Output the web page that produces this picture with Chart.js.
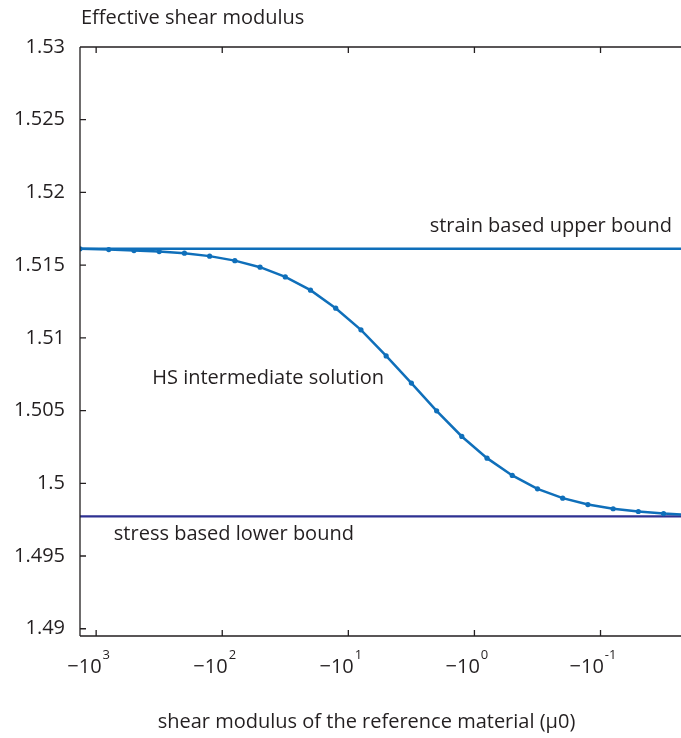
<!DOCTYPE html>
<html>
<head>
<meta charset="utf-8">
<script src="https://cdn.jsdelivr.net/npm/chart.js@4.4.0/dist/chart.umd.min.js"></script>
<style>
    html, body { margin: 0; padding: 0; background: #fff; overflow: hidden; }
    canvas { display: block; }
</style>
</head>
<body>
<canvas id="chart" width="681" height="738"></canvas>
<script>
// --- Data ---
// reference material shear modulus (mu0), negative, log-spaced
const muRef = [-1343, -794.3, -501.2, -316.2, -199.5, -125.9, -79.43, -50.12, -31.62, -19.95,
    -12.59, -7.943, -5.012, -3.162, -1.995, -1.259, -0.7943, -0.5012, -0.3162, -0.1995,
    -0.1259, -0.07943, -0.05012, -0.03162, -0.01995];
// HS intermediate solution (effective shear modulus)
const hsSolution = [1.51612, 1.51607, 1.51600, 1.51593, 1.51582, 1.51562, 1.51531, 1.51486, 1.51419, 1.51328,
    1.51204, 1.51055, 1.50876, 1.50689, 1.50498, 1.50322, 1.50173, 1.50054, 1.49962, 1.49898,
    1.49854, 1.49825, 1.49806, 1.49792, 1.49782];
const upperBound = 1.51612; // strain based
const lowerBound = 1.49772; // stress based

const muLimits = [-1343, -0.0230];
const yLimits = [1.4895, 1.53];
const xTickExps = [3, 2, 1, 0, -1];
const xTickExpLabels = ['3', '2', '1', '0', '-1'];
const yTicks = [1.49, 1.495, 1.5, 1.505, 1.51, 1.515, 1.52, 1.525, 1.53];
const yTickLabels = ['1.49', '1.495', '1.5', '1.505', '1.51', '1.515', '1.52', '1.525', '1.53'];

// text labels inside the axes, anchored in data space
const curveLabels = [
    { text: 'strain based upper bound', mu: -0.0271, g: 1.5177, align: 'right' },
    { text: 'HS intermediate solution', mu: -359, g: 1.50725, align: 'left' },
    { text: 'stress based lower bound', mu: -724, g: 1.49646, align: 'left' },
];

const FONT = '"Open Sans", sans-serif';
const INK = '#231f20';
const BLUE = '#0f6fba';
const NAVY = '#2e3192';

const lg = (mu) => Math.log10(-mu);
const toPoints = (xs, ys) => xs.map((m, i) => ({ x: lg(m), y: ys[i] }));

// draws the MATLAB-like box: axis lines, inward ticks, x labels with exponents, titles
const axesBox = {
    id: 'axesBox',
    afterDraw(chart) {
        const { ctx, chartArea: a, scales: { x, y } } = chart;
        const tick = 6;
        ctx.save();
        ctx.strokeStyle = INK;
        ctx.lineWidth = 1.3;
        ctx.beginPath();
        ctx.moveTo(a.left, a.top); ctx.lineTo(a.right, a.top);
        ctx.moveTo(a.left, a.top); ctx.lineTo(a.left, a.bottom);
        ctx.moveTo(a.left, a.bottom); ctx.lineTo(a.right, a.bottom);
        yTicks.forEach(v => {
            const py = y.getPixelForValue(v);
            ctx.moveTo(a.left, py); ctx.lineTo(a.left + tick, py);
        });
        xTickExps.forEach(v => {
            const px = x.getPixelForValue(v);
            ctx.moveTo(px, a.bottom); ctx.lineTo(px, a.bottom - tick);
            ctx.moveTo(px, a.top); ctx.lineTo(px, a.top + tick);
        });
        ctx.stroke();

        // x tick labels: -10 with superscript exponent
        ctx.fillStyle = INK;
        ctx.textBaseline = 'alphabetic';
        ctx.textAlign = 'left';
        xTickExps.forEach((v, i) => {
            const px = x.getPixelForValue(v);
            ctx.font = '20px ' + FONT;
            const base = '\u221210';
            const bw = ctx.measureText(base).width;
            ctx.font = '13px ' + FONT;
            const ew = ctx.measureText(xTickExpLabels[i]).width;
            const x0 = px - 7.5 - (bw + 1 + ew) / 2;
            ctx.font = '20px ' + FONT;
            ctx.fillText(base, x0, a.bottom + 37);
            ctx.font = '13px ' + FONT;
            ctx.fillText(xTickExpLabels[i], x0 + bw + 1, a.bottom + 23);
        });

        // axis titles
        ctx.font = '20px ' + FONT;
        ctx.textAlign = 'left';
        ctx.fillText('Effective shear modulus', a.left + 1, a.top - 23);
        ctx.textAlign = 'center';
        ctx.fillText('shear modulus of the reference material (\u03bc0)', (a.left + a.right) / 2 - 14, a.bottom + 92);

        // curve labels
        ctx.textBaseline = 'middle';
        curveLabels.forEach(l => {
            ctx.textAlign = l.align;
            ctx.fillText(l.text, x.getPixelForValue(lg(l.mu)), y.getPixelForValue(l.g));
        });
        ctx.restore();
    }
};

const ctx = document.getElementById('chart').getContext('2d');
new Chart(ctx, {
    type: 'line',
    data: {
        datasets: [
            {
                label: 'strain based upper bound',
                data: toPoints([muLimits[0], muRef[muRef.length - 1]], [upperBound, upperBound]),
                borderColor: BLUE,
                borderWidth: 2.5,
                pointRadius: 0,
            },
            {
                label: 'HS intermediate solution',
                data: toPoints(muRef, hsSolution),
                borderColor: BLUE,
                backgroundColor: BLUE,
                borderWidth: 2.5,
                pointRadius: 2.6,
                pointBorderWidth: 0,
                tension: 0,
            },
            {
                label: 'stress based lower bound',
                data: toPoints([muLimits[0], muRef[muRef.length - 1]], [lowerBound, lowerBound]),
                borderColor: NAVY,
                borderWidth: 2.2,
                pointRadius: 0,
            },
        ]
    },
    options: {
        responsive: false,
        animation: false,
        devicePixelRatio: 1,
        layout: { autoPadding: false, padding: { top: 47, left: 0, right: 0, bottom: 0 } },
        plugins: {
            legend: { display: false },
            tooltip: { enabled: false },
        },
        scales: {
            x: {
                type: 'linear',
                reverse: true,
                min: lg(muLimits[1]),
                max: lg(muLimits[0]),
                grid: { display: false, drawTicks: false },
                border: { display: false },
                ticks: { display: false },
                afterBuildTicks: s => { s.ticks = xTickExps.map(v => ({ value: v })); },
                afterFit: s => { s.height = 102; },
            },
            y: {
                min: yLimits[0],
                max: yLimits[1],
                grid: { display: false, drawTicks: false },
                border: { display: false },
                afterBuildTicks: s => { s.ticks = yTicks.map(v => ({ value: v })); },
                afterFit: s => { s.width = 80; },
                ticks: {
                    padding: 15,
                    color: INK,
                    font: { family: FONT, size: 20 },
                    callback: (v, i) => yTickLabels[i],
                },
            },
        },
    },
    plugins: [axesBox],
});
</script>
</body>
</html>
